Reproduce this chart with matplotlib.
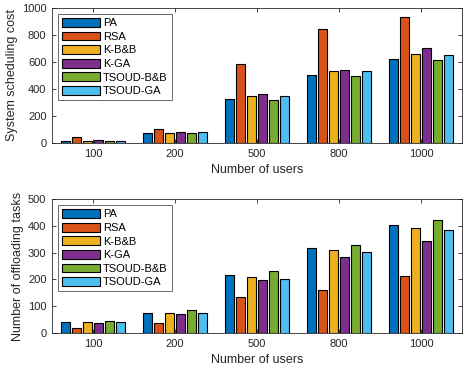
import numpy as np
import matplotlib
matplotlib.use("Agg")
import matplotlib.pyplot as plt

plt.rcParams['font.family'] = ['Liberation Sans', 'DejaVu Sans']

users = ['100', '200', '500', '800', '1000']
methods = ['PA', 'RSA', 'K-B&B', 'K-GA', 'TSOUD-B&B', 'TSOUD-GA']
colors = ['#0072BD', '#D95319', '#EDB120', '#7E2F8E', '#77AC30', '#4DBEEE']

# system scheduling cost, one list per method (over users)
cost_pa = [15, 75, 326, 500, 625]
cost_rsa = [45, 105, 585, 842, 932]
cost_kbb = [18, 75, 351, 533, 659]
cost_kga = [20, 78, 364, 541, 702]
cost_tbb = [15, 73, 319, 499, 618]
cost_tga = [17, 78, 348, 530, 655]

# number of offloading tasks
tasks_pa = [41, 76, 218, 317, 405]
tasks_rsa = [20, 39, 136, 161, 214]
tasks_kbb = [41, 76, 211, 310, 392]
tasks_kga = [39, 72, 197, 282, 345]
tasks_tbb = [44, 86, 231, 329, 422]
tasks_tga = [41, 74, 203, 302, 386]

cost = [cost_pa, cost_rsa, cost_kbb, cost_kga, cost_tbb, cost_tga]
tasks = [tasks_pa, tasks_rsa, tasks_kbb, tasks_kga, tasks_tbb, tasks_tga]

fig = plt.figure(figsize=(4.63, 3.72), dpi=100)
ax1 = fig.add_axes([0.1123, 0.6156, 0.8855, 0.363])
ax2 = fig.add_axes([0.1123, 0.1048, 0.8855, 0.360])

x = np.arange(1, len(users) + 1)
step = 0.8 / len(methods)
width = 0.11


def draw(ax, data, ylabel, ymax, ystep):
    for i, (vals, c, name) in enumerate(zip(data, colors, methods)):
        off = (i - (len(methods) - 1) / 2) * step
        ax.bar(x + off, vals, width, color=c, edgecolor='black',
               linewidth=0.8, label=name)
    ax.set_xlim(0.5, 5.5)
    ax.set_ylim(0, ymax)
    ax.set_yticks(np.arange(0, ymax + 1, ystep))
    ax.set_xticks(x)
    ax.set_xticklabels(users)
    ax.tick_params(direction='in', length=3, width=0.6, labelsize=8,
                   top=True, right=True, colors='#262626', pad=4)
    for s in ax.spines.values():
        s.set_color('#262626')
        s.set_linewidth(0.6)
    ax.set_xlabel('Number of users', fontsize=9, color='#262626', labelpad=4)
    ax.set_ylabel(ylabel, fontsize=9, color='#262626', labelpad=3)
    leg = ax.legend(loc='upper left', fontsize=8, frameon=True, fancybox=False,
                    edgecolor='#262626', handlelength=3.4, handleheight=0.85,
                    handletextpad=0.3, labelspacing=0.3, borderpad=0.35,
                    borderaxespad=0.55)
    leg.get_frame().set_linewidth(0.6)


draw(ax1, cost, 'System scheduling cost', 1000, 200)
draw(ax2, tasks, 'Number of offloading tasks', 500, 100)

fig.savefig('out.png', dpi=100)
